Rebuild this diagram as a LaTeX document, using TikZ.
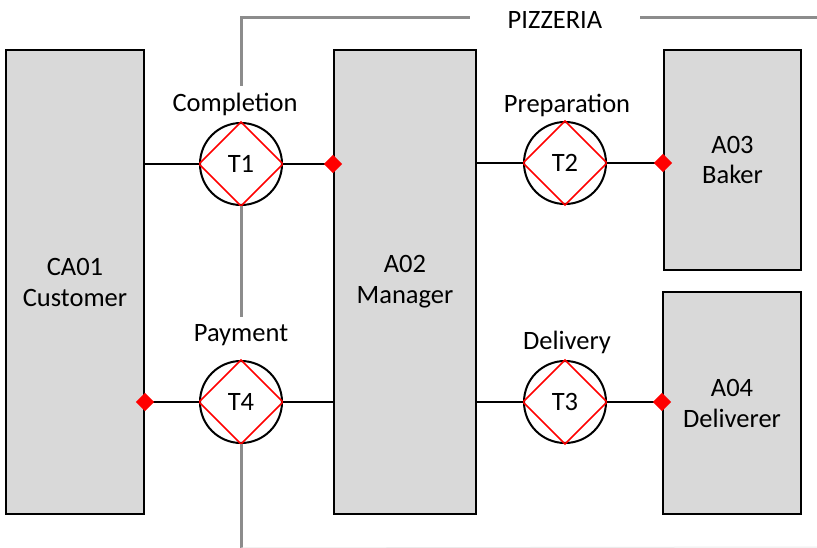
\documentclass[tikz,border=0pt]{standalone}
\usepackage{fontspec}
\setmainfont{Carlito}
\usetikzlibrary{shapes.geometric}
\definecolor{boxfill}{HTML}{D9D9D9}
\definecolor{bound}{HTML}{8C8C8C}
\tikzset{
  actor/.style={draw=black, line width=2pt, fill=boxfill, rectangle, align=center,
    font=\fontsize{26.5}{31}\selectfont, inner sep=0pt},
  trans/.style={draw=black, line width=2pt, circle, minimum size=82pt, inner sep=0pt,
    font=\fontsize{26.5}{31}\selectfont},
  transdia/.style={draw=red, line width=1.6pt},
  conn/.style={draw=black, line width=2pt},
  marker/.style={diamond, fill=red, inner sep=0pt, minimum size=19pt},
  boundary/.style={draw=bound, line width=3pt},
  lbl/.style={font=\fontsize{26.5}{31}\selectfont, inner sep=0pt},
}
\begin{document}
\begin{tikzpicture}[x=1pt, y=-1pt]
\useasboundingbox (0,0) rectangle (817,548);
% boundary
\coordinate (bA) at (241,86);
\coordinate (bB) at (241,18);
\coordinate (bC) at (470,18);
\coordinate (bD) at (640,18);
\coordinate (bE) at (817,18);
\coordinate (bF) at (241,317);
\coordinate (bG) at (241,548);
\coordinate (bH) at (817,547);
\draw[boundary] (bA) -- (bB) -- (bC);
\draw[boundary] (bD) -- (bE);
\node[lbl] (pizzeria) at (555,20) {PIZZERIA};
% actors
\node[actor, minimum width=138pt, minimum height=464pt] (ca01) at (75,282) {CA01\\Customer};
\node[actor, minimum width=142pt, minimum height=464pt] (a02) at (405,282) {A02\\Manager};
\node[actor, minimum width=137pt, minimum height=220pt] (a03) at (732.5,160) {A03\\Baker};
\node[actor, minimum width=138pt, minimum height=222pt] (a04) at (732,403) {A04\\Deliverer};
% transactions
\node[trans] (t1) at (241,164) {T1};
\node[trans] (t2) at (565,163) {T2};
\node[trans] (t3) at (565,402) {T3};
\node[trans] (t4) at (241,402) {T4};
\foreach \t in {t1,t2,t3,t4}
  \draw[transdia] (\t.north) -- (\t.east) -- (\t.south) -- (\t.west) -- cycle;
\draw[boundary] (t1.south) -- (bF);
\draw[boundary] (t4.south) -- (bG);
\draw[draw=black!8, line width=1pt] (bG) -- (bH);
% labels
\node[lbl] (lc) at (235,104) {Completion};
\node[lbl] (lpay) at (241,335) {Payment};
\node[lbl] (lprep) at (567,105) {Preparation};
\node[lbl] (ldel) at (567,342) {Delivery};
% connectors
\draw[conn] (t1.west) -- (t1.west -| ca01.east);
\draw[conn] (t1.east) -- (t1.east -| a02.west) node[marker] (m1) {};
\draw[conn] (t2.west) -- (t2.west -| a02.east);
\draw[conn] (t2.east) -- (t2.east -| a03.west) node[marker] (m2) {};
\draw[conn] (t4.east) -- (t4.east -| a02.west);
\draw[conn] (t4.west) -- (t4.west -| ca01.east) node[marker] (m4) {};
\draw[conn] (t3.west) -- (t3.west -| a02.east);
\draw[conn] (t3.east) -- (t3.east -| a04.west) node[marker] (m3) {};
\end{tikzpicture}
\end{document}
